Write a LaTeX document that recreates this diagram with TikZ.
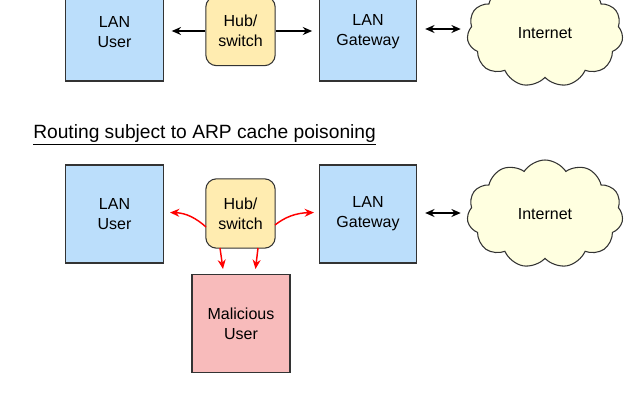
\documentclass[tikz,border=0pt]{standalone}
\usepackage{fontspec}
\setmainfont{Liberation Sans}
\usetikzlibrary{shapes.symbols,arrows.meta}
\definecolor{boxblue}{RGB}{187,222,251}
\definecolor{hubyellow}{RGB}{255,236,176}
\definecolor{malpink}{RGB}{248,187,187}
\definecolor{cloudfill}{RGB}{255,255,224}
\definecolor{edge}{RGB}{51,51,51}
\definecolor{poison}{RGB}{255,0,0}
\tikzset{
  lanbox/.style={draw=edge, line width=0.8pt, fill=boxblue, minimum width=73pt, minimum height=73.5pt, inner sep=0pt, align=center, font=\fontsize{12}{15}\selectfont},
  hubbox/.style={draw=edge, line width=0.8pt, fill=hubyellow, rounded corners=8pt, minimum width=52pt, minimum height=52pt, inner sep=0pt, align=center, font=\fontsize{12}{15}\selectfont},
  malbox/.style={draw=edge, line width=0.8pt, fill=malpink, minimum width=73.5pt, minimum height=73pt, inner sep=0pt, align=center, font=\fontsize{12}{15}\selectfont},
  netcloud/.style={cloud, draw=edge, line width=0.8pt, fill=cloudfill, cloud puffs=11, cloud puff arc=115, aspect=1.5, minimum width=117pt, minimum height=81pt, inner sep=0pt, font=\fontsize{12}{15}\selectfont},
  blackarrow/.style={line width=1.1pt, black, -{Stealth[length=7pt,width=6pt]}},
  dblarrow/.style={line width=1.1pt, black, {Stealth[length=7pt,width=6pt]}-{Stealth[length=7pt,width=6pt]}},
  redarrow/.style={line width=1.1pt, poison, -{Stealth[length=7pt,width=6pt]}},
}
\begin{document}
\begin{tikzpicture}[x=0.75pt,y=-0.75pt]
\useasboundingbox (0,0) rectangle (640,400);
% top row
\node[lanbox] (user1) at (114.5,32) {LAN\\User};
\node[hubbox] (hub1) at (240.5,31) {Hub/\\switch};
\node[lanbox] (gw1) at (368,32) {LAN\\Gateway};
\node[netcloud] (cloud1) at (545,33) {Internet};
\draw[blackarrow, shorten >=6pt] (hub1.west) -- (hub1.west -| user1.east);
\draw[blackarrow, shorten >=5pt] (hub1.east) -- (hub1.east -| gw1.west);
\draw[dblarrow, shorten <=6pt, shorten >=5pt] (gw1.east |- 0,29) coordinate (g1e) -- (g1e -| cloud1.west);
% title
\node[anchor=base west, inner sep=0pt, font=\fontsize{14.4}{17}\selectfont] (title) at (33,138) {\underline{Routing subject to ARP cache poisoning}};
% bottom row
\node[lanbox] (user2) at (114.5,214) {LAN\\User};
\node[hubbox] (hub2) at (240.5,213.5) {Hub/\\switch};
\node[lanbox] (gw2) at (368,214) {LAN\\Gateway};
\node[netcloud] (cloud2) at (545,214) {Internet};
\node[malbox] (mal) at (241,323.5) {Malicious\\User};
\draw[dblarrow, shorten <=6pt, shorten >=5pt] (gw2.east |- 0,213) coordinate (g2e) -- (g2e -| cloud2.west);
% poisoned routes
\coordinate (hl) at (206,227);
\coordinate (ul) at (170,212.5);
\coordinate (hr) at (275,225);
\coordinate (gr) at (314,212.5);
\coordinate (d1s) at (220,248);
\coordinate (d1e) at (223,269);
\coordinate (d2s) at (258,248);
\coordinate (d2e) at (255.5,269);
\draw[redarrow] (hl) .. controls (196,218) and (186,213) .. (ul);
\draw[redarrow] (hr) .. controls (285,217) and (296,213) .. (gr);
\draw[redarrow] (d1s) -- (d1e);
\draw[redarrow] (d2s) -- (d2e);
\end{tikzpicture}
\end{document}
